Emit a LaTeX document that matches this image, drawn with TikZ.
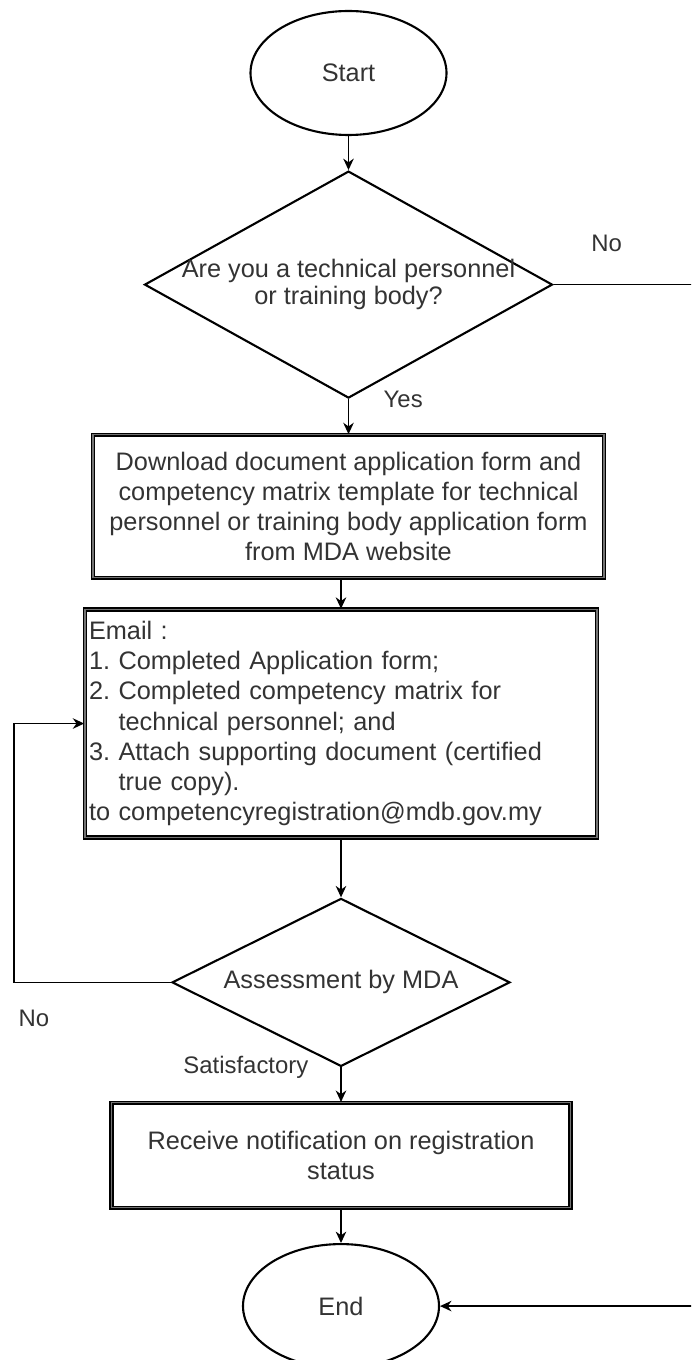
\documentclass[tikz,border=0pt]{standalone}
\usepackage{fontspec}
\setmainfont{Liberation Sans}
\usetikzlibrary{positioning,shapes.geometric,arrows.meta}

\begin{document}
\begin{tikzpicture}[node distance=0.69cm,>={Stealth[length=6.5pt,width=6pt]},
  font=\fontsize{14.4}{17.2}\selectfont, text=black!80,
  term/.style={draw, ellipse, line width=1.2pt, minimum width=3.92cm, minimum height=2.48cm},
  check/.style={draw, diamond, shape aspect=2, inner sep=1pt, line width=1.2pt},
  task/.style={draw, line width=0.9pt, double=black!55, double distance=0.6pt},
  flow/.style={->, line width=0.8pt},
  lbl/.style={inner sep=0pt, font=\fontsize{13.6}{16}\selectfont}]
\useasboundingbox (0,0) rectangle (13.82,-27.2);
\clip (0,0) rectangle (13.82,-27.2);

\node (start) [term] at (6.97,-1.46) {Start};
\node (q1) [check, below=0.68cm of start, minimum width=8.16cm, minimum height=4.54cm] {};
\node (q1text) [align=center, font=\fontsize{14.4}{15.2}\selectfont] at (q1) {Are you a technical personnel\\or training body?};
\node (download) [task, below=0.7cm of q1, minimum width=10.22cm, minimum height=2.86cm, align=center] {Download document application form and\\competency matrix template for technical\\personnel or training body application form\\from MDA website};
\node (email) [task, below=0.6cm of download, xshift=-0.15cm, minimum height=4.56cm, text width=10.08cm, inner xsep=0.08cm, align=left] {Email :\\1.~Completed Application form;\\2.~Completed competency matrix for\\\hphantom{2.~}technical personnel; and\\3.~Attach supporting document (certified\\\hphantom{3.~}true copy).\\to competencyregistration@mdb.gov.my};
\node (q2) [check, below=1.18cm of email, minimum width=6.76cm, minimum height=3.36cm] {Assessment by MDA};
\node (receive) [task, below=of q2, minimum width=9.18cm, minimum height=2.1cm, align=center] {Receive notification on registration\\status};
\node (end) [term, below=of receive] {End};

\coordinate (leftrail) at (0.28,0);
\coordinate (rightrail) at (14.1,0);

\draw[flow] (start) -- (q1);
\draw[flow] (q1) -- node[lbl, pos=0, right=0.69cm] {Yes} (download);
\draw[flow] (q1.east) -- node[lbl, pos=0.35, above=0.64cm] {No} (q1.east -| rightrail) -- (end.east -| rightrail) -- (end.east);
\draw[flow] (download.south -| email.north) -- (email.north);
\draw[flow] (email) -- (q2);
\draw[flow] (q2.west) -- node[lbl, pos=1, below right=0.54cm and 0.08cm] {No} (q2.west -| leftrail) |- (email.west);
\draw[flow] (q2) -- node[lbl, pos=0, left=0.64cm] {Satisfactory} (receive);
\draw[flow] (receive) -- (end);
\end{tikzpicture}
\end{document}
